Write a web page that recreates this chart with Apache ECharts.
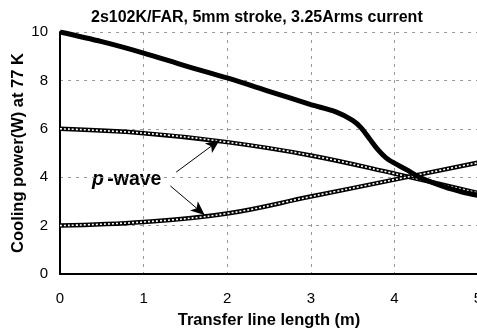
<!DOCTYPE html>
<html>
<head>
<meta charset="utf-8">
<script src="https://cdn.jsdelivr.net/npm/echarts@6/dist/echarts.min.js"></script>
<style>
  html, body { margin: 0; padding: 0; background: #fff; }
  #chart { width: 477px; height: 330px; }
</style>
</head>
<body>
<div id="chart"></div>
<script>
// data
const xMain = [0, 0.5, 1, 1.5, 2, 2.5, 3, 3.3, 3.5, 3.6, 3.7, 3.8, 3.9, 4.0, 4.15, 4.3, 4.6, 4.8, 5];
const yMain = [10, 9.6, 9.13, 8.6, 8.1, 7.55, 7.0, 6.7, 6.35, 6.05, 5.6, 5.15, 4.8, 4.58, 4.3, 4.0, 3.6, 3.4, 3.25];
const xWave = [0, 1, 2, 3, 4, 5];
const yWaveUpper = [6.0, 5.82, 5.45, 4.9, 4.15, 3.35];
const yWaveLower = [2.0, 2.15, 2.5, 3.2, 3.9, 4.6];
// arrows from the label to the curves: [from, to]
const arrowUpper = [[1.39, 4.21], [1.91, 5.54]];
const arrowLower = [[1.32, 3.64], [1.73, 2.44]];

const font = "Arial, 'Liberation Sans', sans-serif";
const zip = (xs, ys) => xs.map((x, i) => [x, ys[i]]);

function waveSeries(data) {
  return [
    { type: "line", data, smooth: 0.4, symbol: "none", silent: true,
      lineStyle: { color: "#000", width: 4.5 } },
    { type: "line", data, smooth: 0.4, symbol: "none", silent: true,
      lineStyle: { color: "#fff", width: 1.6, type: [2, 2] } }
  ];
}

function arrowLine(a) {
  return [{ coord: a[0], symbol: "none" }, { coord: a[1], symbol: "arrow" }];
}

const chart = echarts.init(document.getElementById("chart"));
chart.setOption({
  animation: false,
  title: {
    text: "2s102K/FAR, 5mm stroke, 3.25Arms current",
    left: 86, top: 5,
    textStyle: { fontFamily: font, fontSize: 16, fontWeight: "bold", color: "#000" }
  },
  grid: { left: 60, right: -1, top: 32, bottom: 56, outerBoundsMode: "none", containLabel: false },
  xAxis: {
    type: "value", min: 0, max: 5, interval: 1,
    name: "Transfer line length (m)", nameLocation: "middle", nameGap: 38,
    nameTextStyle: { fontFamily: font, fontSize: 16.5, fontWeight: "bold", color: "#000" },
    axisLine: { show: true, lineStyle: { color: "#000", width: 2 } },
    axisTick: { show: false },
    axisLabel: { fontFamily: font, fontSize: 15, color: "#000", margin: 17 },
    splitLine: { show: true, lineStyle: { color: "#999", type: [3, 5] } }
  },
  yAxis: {
    type: "value", min: 0, max: 10, interval: 2,
    name: "Cooling power(W) at 77 K", nameLocation: "middle", nameGap: 33,
    nameMoveOverlap: false,
    nameTextStyle: { fontFamily: font, fontSize: 16.5, fontWeight: "bold", color: "#000" },
    axisLine: { show: true, lineStyle: { color: "#000", width: 2 } },
    axisTick: { show: false },
    axisLabel: { fontFamily: font, fontSize: 15, color: "#000", margin: 12 },
    splitLine: { show: true, lineStyle: { color: "#999", type: [3, 5] } }
  },
  series: [
    ...waveSeries(zip(xWave, yWaveUpper)),
    ...waveSeries(zip(xWave, yWaveLower)),
    { type: "line", data: zip(xMain, yMain), smooth: 0.3, symbol: "none",
      lineStyle: { color: "#000", width: 5 },
      markLine: {
        silent: true, symbolSize: [9, 14],
        label: { show: false },
        lineStyle: { color: "#000", width: 1, type: "solid" },
        data: [arrowLine(arrowUpper), arrowLine(arrowLower)]
      }
    }
  ],
  graphic: [{
    type: "text", left: 92, top: 170,
    style: {
      text: "{p|p} {w|-wave}",
      rich: {
        p: { fontFamily: font, fontSize: 19.5, fontWeight: "bold", fontStyle: "italic", fill: "#000" },
        w: { fontFamily: font, fontSize: 19.5, fontWeight: "bold", fill: "#000" }
      }
    }
  }]
});
</script>
</body>
</html>
